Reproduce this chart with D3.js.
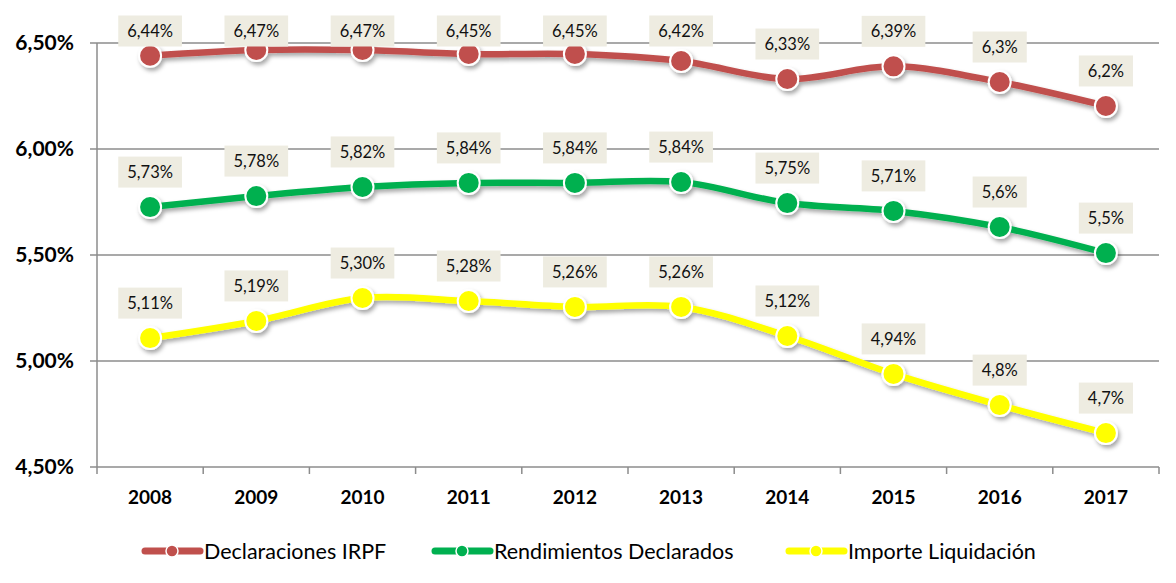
<html lang="es">
<head>
<meta charset="UTF-8">
<title>Evolución porcentual</title>
<script src="https://d3js.org/d3.v7.min.js"></script>
<style>
  body { margin: 0; background: #fff; }
  text { font-family: Lato, "Open Sans", sans-serif; }
  .tick-y { font-size: 21px; font-weight: bold; fill: #000; }
  .tick-x { font-size: 19px; font-weight: bold; fill: #000; }
  .lbl { font-size: 16.5px; fill: #111; }
  .leg { font-size: 21.5px; fill: #000; }
</style>
</head>
<body>
<svg width="1176" height="583"></svg>
<script>
const years = ["2008", "2009", "2010", "2011", "2012", "2013", "2014", "2015", "2016", "2017"];
const seriesNames = ["Declaraciones IRPF", "Rendimientos Declarados", "Importe Liquidación"];
const seriesColors = ["#C0504D", "#00B050", "#FFFF00"];

// plotted values
const declaraciones = [6.44, 6.467, 6.467, 6.448, 6.448, 6.415, 6.33, 6.39, 6.316, 6.203];
const rendimientos = [5.726, 5.778, 5.821, 5.84, 5.84, 5.844, 5.745, 5.708, 5.632, 5.509];
const importe = [5.108, 5.189, 5.297, 5.283, 5.255, 5.255, 5.118, 4.939, 4.792, 4.66];

// data labels as shown
const declaracionesLbl = ["6,44%", "6,47%", "6,47%", "6,45%", "6,45%", "6,42%", "6,33%", "6,39%", "6,3%", "6,2%"];
const rendimientosLbl = ["5,73%", "5,78%", "5,82%", "5,84%", "5,84%", "5,84%", "5,75%", "5,71%", "5,6%", "5,5%"];
const importeLbl = ["5,11%", "5,19%", "5,30%", "5,28%", "5,26%", "5,26%", "5,12%", "4,94%", "4,8%", "4,7%"];

const yTicks = [4.5, 5.0, 5.5, 6.0, 6.5];

const series = [
  {name: seriesNames[0], color: seriesColors[0], values: declaraciones, labels: declaracionesLbl},
  {name: seriesNames[1], color: seriesColors[1], values: rendimientos, labels: rendimientosLbl},
  {name: seriesNames[2], color: seriesColors[2], values: importe, labels: importeLbl}
];

const plotL = 97, plotR = 1159, plotT = 43, plotB = 467;
const svg = d3.select("svg");

const defs = svg.append("defs");
const f = defs.append("filter").attr("id", "shadow")
    .attr("x", "-20%").attr("y", "-20%").attr("width", "140%").attr("height", "140%");
f.append("feDropShadow").attr("dx", 2).attr("dy", 3).attr("stdDeviation", 2)
    .attr("flood-color", "#000").attr("flood-opacity", 0.35);

const x = d3.scaleBand().domain(years).range([plotL, plotR]);
const y = d3.scaleLinear().domain([4.5, 6.5]).range([plotB, plotT]);

// gridlines
svg.append("g").selectAll("line").data(yTicks).join("line")
    .attr("x1", plotL - 7).attr("x2", plotR)
    .attr("y1", d => y(d)).attr("y2", d => y(d))
    .attr("stroke", "#8c8c8c").attr("stroke-width", 1.5);

// y axis line
svg.append("line").attr("x1", plotL).attr("x2", plotL).attr("y1", plotT).attr("y2", plotB + 7)
    .attr("stroke", "#8c8c8c").attr("stroke-width", 1.5);

// y tick labels
svg.append("g").selectAll("text").data(yTicks).join("text")
    .attr("class", "tick-y")
    .attr("x", 74).attr("y", d => y(d)).attr("dy", "0.35em")
    .attr("text-anchor", "end")
    .text(d => d3.format(".2f")(d).replace(".", ",") + "%");

// x category ticks
svg.append("g").selectAll("line").data(years).join("line")
    .attr("x1", d => x(d) + x.bandwidth()).attr("x2", d => x(d) + x.bandwidth())
    .attr("y1", plotB).attr("y2", plotB + 7)
    .attr("stroke", "#8c8c8c").attr("stroke-width", 1.5);

svg.append("g").selectAll("text").data(years).join("text")
    .attr("class", "tick-x")
    .attr("x", d => x(d) + x.bandwidth() / 2).attr("y", 497).attr("dy", "0.35em")
    .attr("text-anchor", "middle")
    .text(d => d);

const line = d3.line()
    .x((d, i) => x(years[i]) + x.bandwidth() / 2)
    .y(d => y(d))
    .curve(d3.curveCatmullRom.alpha(0.5));

series.forEach(s => {
  const g = svg.append("g").attr("filter", "url(#shadow)");
  g.append("path").datum(s.values)
      .attr("fill", "none").attr("stroke", s.color).attr("stroke-width", 6.5)
      .attr("d", line);
  g.selectAll("circle").data(s.values).join("circle")
      .attr("cx", (d, i) => x(years[i]) + x.bandwidth() / 2)
      .attr("cy", d => y(d))
      .attr("r", 11)
      .attr("fill", s.color).attr("stroke", "#fff").attr("stroke-width", 2);
});

// data labels
series.forEach(s => {
  const g = svg.append("g");
  s.values.forEach((v, i) => {
    const cx = x(years[i]) + x.bandwidth() / 2;
    const cy = Math.max(y(v) - 35, 31);
    const t = g.append("text").attr("class", "lbl")
        .attr("x", cx).attr("y", cy).attr("dy", "0.35em")
        .attr("text-anchor", "middle").text(s.labels[i]);
    const w = t.node().getComputedTextLength() + 18;
    g.insert("rect", "text")
        .attr("x", cx - w / 2).attr("y", cy - 15.5)
        .attr("width", w).attr("height", 31)
        .attr("fill", "#EEECE1");
  });
});

// legend
const legX = [143, 433, 787];
series.forEach((s, i) => {
  const g = svg.append("g").attr("transform", `translate(${legX[i]},551)`);
  g.append("line").attr("x1", 2).attr("x2", 57).attr("y1", 0).attr("y2", 0)
      .attr("stroke", s.color).attr("stroke-width", 7).attr("stroke-linecap", "round");
  g.append("circle").attr("cx", 29).attr("cy", 0).attr("r", 6)
      .attr("fill", s.color).attr("stroke", "#fff").attr("stroke-width", 1.5);
  g.append("text").attr("class", "leg").attr("x", 61).attr("y", 0).attr("dy", "0.35em")
      .text(s.name);
});
</script>
</body>
</html>
